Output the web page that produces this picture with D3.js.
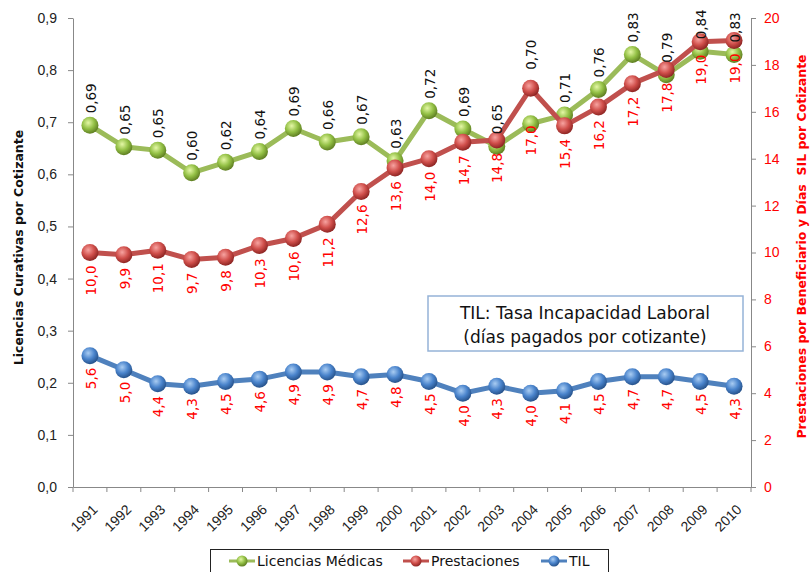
<!DOCTYPE html>
<html>
<head>
<meta charset="utf-8">
<script src="https://cdn.jsdelivr.net/npm/d3@7"></script>
<style>
  body { margin: 0; background: #fff; }
  svg { font-family: 'DejaVu Sans', Verdana, sans-serif; }
</style>
</head>
<body>
<svg id="grafico"></svg>
<script>
const anios = ['1991','1992','1993','1994','1995','1996','1997','1998','1999','2000',
               '2001','2002','2003','2004','2005','2006','2007','2008','2009','2010'];
const licencias = [0.694, 0.653, 0.646, 0.603, 0.623, 0.644, 0.688, 0.662, 0.672, 0.626,
                   0.722, 0.687, 0.654, 0.697, 0.714, 0.763, 0.830, 0.791, 0.836, 0.830];
const prestaciones = [10.0, 9.9, 10.1, 9.7, 9.8, 10.3, 10.6, 11.2, 12.6, 13.6,
                      14.0, 14.7, 14.8, 17.0, 15.4, 16.2, 17.2, 17.8, 18.99, 19.04];
const til = [5.6, 5.0, 4.4, 4.3, 4.5, 4.6, 4.9, 4.9, 4.7, 4.8,
             4.5, 4.0, 4.3, 4.0, 4.1, 4.5, 4.7, 4.7, 4.5, 4.3];
const ticksIzq = [0, 0.1, 0.2, 0.3, 0.4, 0.5, 0.6, 0.7, 0.8, 0.9];
const ticksDer = [0, 2, 4, 6, 8, 10, 12, 14, 16, 18, 20];

const ancho = 811, alto = 572;
const margem = { esquerda: 73, direita: 60, superior: 18, inferior: 85 };

// etiquetas movidas a mano en el original (año 2004)
const ajusteVerde = { '2004': -42 };
const ajusteRojo = { '2004': 24 };

const svg = d3.select('#grafico').attr('width', ancho).attr('height', alto);

const x = d3.scaleBand().domain(anios)
  .range([margem.esquerda, ancho - margem.direita]);
const yIzq = d3.scaleLinear().domain([0, 0.9]).range([alto - margem.inferior, margem.superior]);
const yDer = d3.scaleLinear().domain([0, 20]).range([alto - margem.inferior, margem.superior]);

const coma = f => v => d3.format(f)(v).replace('.', ',');
const cx = d => x(d) + x.bandwidth() / 2;

// gradientes para los marcadores
const defs = svg.append('defs');
function esfera(id, claro, medio, oscuro) {
  const g = defs.append('radialGradient').attr('id', id)
    .attr('cx', '40%').attr('cy', '35%').attr('r', '65%');
  g.append('stop').attr('offset', '0%').attr('stop-color', claro);
  g.append('stop').attr('offset', '55%').attr('stop-color', medio);
  g.append('stop').attr('offset', '100%').attr('stop-color', oscuro);
}
esfera('gVerde', '#e4f7a6', '#93c045', '#5f7f22');
esfera('gRojo', '#f7a3a0', '#d04f4b', '#8e2523');
esfera('gAzul', '#a9ccf2', '#4a84cc', '#27538c');

// ejes
const ejeIzq = svg.append('g')
  .attr('transform', 'translate(' + margem.esquerda + ',0)')
  .call(d3.axisLeft(yIzq).tickValues(ticksIzq).tickFormat(coma('.1f')).tickSize(5).tickSizeOuter(0));
ejeIzq.selectAll('text').style('font-size', '14px').attr('fill', '#222').attr('dx', '-8');

const ejeDer = svg.append('g')
  .attr('transform', 'translate(' + (ancho - margem.direita) + ',0)')
  .call(d3.axisRight(yDer).tickValues(ticksDer).tickSize(5).tickSizeOuter(0));
ejeDer.selectAll('text').style('font-size', '14px').attr('fill', '#ff0000').attr('dx', '5');

const ejeX = svg.append('g')
  .attr('transform', 'translate(0,' + (alto - margem.inferior) + ')')
  .call(d3.axisBottom(x).tickSize(0).tickSizeOuter(0));
ejeX.selectAll('text')
  .style('font-size', '14px').attr('fill', '#222')
  .style('text-anchor', 'end')
  .attr('y', 0).attr('dy', '0.35em')
  .attr('transform', 'translate(5,20) rotate(-45)');
const limites = anios.map(d => x(d)).concat([x.range()[1]]);
ejeX.selectAll('.limite').data(limites).enter().append('line')
  .attr('x1', d => d).attr('x2', d => d).attr('y1', 0).attr('y2', 5);

svg.selectAll('.domain, .tick line, .limite').attr('stroke', '#888');
ejeX.selectAll('line').attr('stroke', '#888');

// titulos de ejes
svg.append('text')
  .attr('transform', 'translate(23,' + ((margem.superior + alto - margem.inferior) / 2 - 5) + ') rotate(-90)')
  .style('text-anchor', 'middle').style('font-size', '12.5px').style('font-weight', 'bold')
  .attr('fill', '#111')
  .text('Licencias Curativas por Cotizante');
svg.append('text')
  .attr('transform', 'translate(806,' + ((margem.superior + alto - margem.inferior) / 2 - 6) + ') rotate(-90)')
  .style('text-anchor', 'middle').style('font-size', '12.5px').style('font-weight', 'bold')
  .attr('fill', '#ff0000')
  .style('white-space', 'pre')
  .text('Prestaciones por Beneficiario y Días  SIL por Cotizante');

// series
const series = [
  { nombre: 'Licencias Médicas', valores: licencias, y: yIzq, color: '#9bbb59', grad: 'gVerde' },
  { nombre: 'Prestaciones', valores: prestaciones, y: yDer, color: '#c0504d', grad: 'gRojo' },
  { nombre: 'TIL', valores: til, y: yDer, color: '#4f81bd', grad: 'gAzul' }
];

series.forEach(s => {
  const linea = d3.line().x((v, i) => cx(anios[i])).y(v => s.y(v));
  svg.append('path').datum(s.valores)
    .attr('d', linea).attr('fill', 'none')
    .attr('stroke', s.color).attr('stroke-width', 5).attr('stroke-linejoin', 'round');
  svg.selectAll(null).data(s.valores).enter().append('circle')
    .attr('cx', (v, i) => cx(anios[i])).attr('cy', v => s.y(v)).attr('r', 8.5)
    .attr('fill', 'url(#' + s.grad + ')');
});

// etiquetas de datos
svg.selectAll('.etqVerde').data(licencias).enter().append('text')
  .attr('transform', (v, i) => 'translate(' + (cx(anios[i]) + 1) + ',' +
    (yIzq(v) - 12 + (ajusteVerde[anios[i]] || 0)) + ') rotate(-90)')
  .attr('dy', '0.35em').style('font-size', '13.5px').attr('fill', '#111')
  .style('text-anchor', 'start')
  .text(coma('.2f'));

svg.selectAll('.etqRojo').data(prestaciones).enter().append('text')
  .attr('transform', (v, i) => 'translate(' + (cx(anios[i]) + 1) + ',' +
    (yDer(v) + 13 + (ajusteRojo[anios[i]] || 0)) + ') rotate(-90)')
  .attr('dy', '0.35em').style('font-size', '13.5px').attr('fill', '#ff0000')
  .style('text-anchor', 'end')
  .text(coma('.1f'));

svg.selectAll('.etqAzul').data(til).enter().append('text')
  .attr('transform', (v, i) => 'translate(' + (cx(anios[i]) + 1) + ',' + (yDer(v) + 12) + ') rotate(-90)')
  .attr('dy', '0.35em').style('font-size', '13.5px').attr('fill', '#ff0000')
  .style('text-anchor', 'end')
  .text(coma('.1f'));

// recuadro TIL
const nota = svg.append('g');
nota.append('rect').attr('x', 428).attr('y', 296).attr('width', 315).attr('height', 55)
  .attr('fill', '#fff').attr('stroke', '#95b3d7').attr('stroke-width', 1.5);
nota.append('text').attr('x', 585).attr('y', 313).attr('dy', '0.35em')
  .style('text-anchor', 'middle').style('font-size', '17px').attr('fill', '#111')
  .text('TIL: Tasa Incapacidad Laboral');
nota.append('text').attr('x', 585).attr('y', 337).attr('dy', '0.35em')
  .style('text-anchor', 'middle').style('font-size', '17px').attr('fill', '#111')
  .text('(días pagados por cotizante)');

// leyenda
const leyenda = svg.append('g');
leyenda.append('rect').attr('x', 210.5).attr('y', 549.5).attr('width', 398).attr('height', 30)
  .attr('fill', '#fff').attr('stroke', '#222');
const posLeyenda = [229, 403, 541];
series.forEach((s, i) => {
  const g = leyenda.append('g').attr('transform', 'translate(' + posLeyenda[i] + ',561)');
  g.append('line').attr('x1', 0).attr('x2', 26).attr('stroke', s.color).attr('stroke-width', 3);
  g.append('circle').attr('cx', 13).attr('r', 5.5).attr('fill', 'url(#' + s.grad + ')');
  g.append('text').attr('x', 28).attr('dy', '0.35em').style('font-size', '14px').attr('fill', '#111')
    .text(s.nombre);
});
</script>
</body>
</html>
